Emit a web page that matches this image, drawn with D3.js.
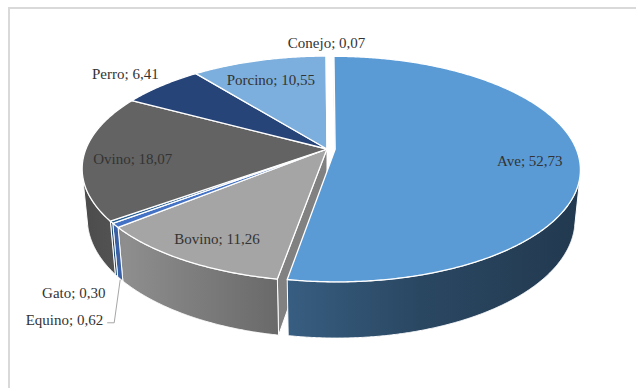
<!DOCTYPE html>
<html>
<head>
<meta charset="utf-8">
<script src="https://cdn.jsdelivr.net/npm/d3@7"></script>
<style>
  html, body { margin: 0; padding: 0; background: #ffffff; }
  svg { display: block; }
</style>
</head>
<body>
<script>
// Distribución de casos por especie (%)
const categories = ["Ave", "Bovino", "Equino", "Gato", "Ovino", "Perro", "Porcino", "Conejo"];
const shares = [52.73, 11.26, 0.62, 0.30, 18.07, 6.41, 10.55, 0.07];
const sliceColors = ["#5B9BD5", "#A5A5A5", "#4472C4", "#255E91", "#636363", "#264478", "#7CAFDD", "#B7B7B7"];
const explodedCategory = "Ave";

const W = 636, H = 388;
const svg = d3.select("body").append("svg").attr("width", W).attr("height", H);

// chart frame
svg.append("rect")
  .attr("x", 9).attr("y", 8).attr("width", W + 10).attr("height", H + 10)
  .attr("fill", "#ffffff").attr("stroke", "#d9d9d9").attr("stroke-width", 2);

// --- 3D projection of the pie disc ---
const cx = 327, cy = 149;          // screen position of the pie centre (top face)
const F = 1227, D = 5.09;          // focal length, camera distance (disc radius = 1)
const sinP = 0.453, cosP = Math.sqrt(1 - sinP * sinP); // camera elevation
const thick = 0.234;               // disc thickness
const explodeDist = 0.034;
const camera = [0, -D * cosP, D * sinP];

function proj(x, y, z) {
  const depth = D + y * cosP - z * sinP;
  return [cx + F * x / depth, cy - F * (y * sinP + z * cosP) / depth];
}

const fmt = d3.formatLocale({ decimal: ",", thousands: ".", grouping: [3], currency: ["", ""] }).format(".2f");
const color = d3.scaleOrdinal().domain(categories).range(sliceColors);

const data = categories.map((c, i) => ({ cat: c, v: shares[i] }));
const arcs = d3.pie().sort(null).value(d => d.v)(data);

arcs.forEach(a => {
  a.mid = (a.startAngle + a.endAngle) / 2;
  const e = a.data.cat === explodedCategory ? explodeDist : 0;
  a.ox = e * Math.sin(a.mid);
  a.oy = e * Math.cos(a.mid);
});

function rim(a, th, z, r = 1) {
  return proj(a.ox + r * Math.sin(th), a.oy + r * Math.cos(th), z);
}

// wall shading along the screen x direction
const defs = svg.append("defs");
const shadeStops = [[80, 0.76], [125, 0.86], [275, 0.64], [290, 0.6], [420, 0.46], [585, 0.37]];
function shade(col, k) {
  const c = d3.rgb(col);
  return d3.rgb(c.r * k, c.g * k, c.b * k).formatHex();
}
arcs.forEach((a, i) => {
  const g = defs.append("linearGradient")
    .attr("id", "wall" + i).attr("gradientUnits", "userSpaceOnUse")
    .attr("x1", 80).attr("y1", 0).attr("x2", 585).attr("y2", 0);
  shadeStops.forEach(([x, k]) => {
    g.append("stop").attr("offset", (x - 80) / 505).attr("stop-color", shade(color(a.data.cat), k));
  });
});

const poly = d3.line().curve(d3.curveLinearClosed);

// radial (cut) faces
const radial = [];
arcs.forEach((a, i) => {
  [[a.startAngle, [-Math.cos(a.startAngle), Math.sin(a.startAngle)]],
   [a.endAngle, [Math.cos(a.endAngle), -Math.sin(a.endAngle)]]].forEach(([th, n]) => {
    const vis = n[0] * (camera[0] - a.ox) + n[1] * (camera[1] - a.oy);
    if (vis <= 0) return;
    const pts = [proj(a.ox, a.oy, 0), rim(a, th, 0), rim(a, th, -thick), proj(a.ox, a.oy, -thick)];
    const depth = a.oy + 0.5 * Math.cos(th);
    radial.push({ pts, fill: shade(color(a.data.cat), 0.78), depth });
  });
});
radial.sort((p, q) => q.depth - p.depth);
svg.append("g").selectAll("path").data(radial).join("path")
  .attr("d", d => poly(d.pts))
  .attr("fill", d => d.fill)
  .attr("stroke", "#ffffff").attr("stroke-width", 1).attr("stroke-linejoin", "round");

// outer walls: only the part facing the camera
const walls = [];
arcs.forEach((a, i) => {
  const n = Math.max(2, Math.ceil((a.endAngle - a.startAngle) / (Math.PI / 720)) + 1);
  const angles = d3.range(n).map(k => a.startAngle + (a.endAngle - a.startAngle) * k / (n - 1));
  let run = [];
  const flush = () => {
    if (run.length >= 2) {
      const top = run.map(th => rim(a, th, 0));
      const bot = run.map(th => rim(a, th, -thick)).reverse();
      walls.push({ pts: top.concat(bot), i });
    }
    run = [];
  };
  angles.forEach(th => {
    const facing = -a.ox * Math.sin(th) - (a.oy + D * cosP) * Math.cos(th) - 1 > 0;
    if (facing) run.push(th); else flush();
  });
  flush();
});
svg.append("g").selectAll("path").data(walls).join("path")
  .attr("d", d => poly(d.pts))
  .attr("fill", d => `url(#wall${d.i})`)
  .attr("stroke", "#ffffff").attr("stroke-width", 1).attr("stroke-linejoin", "round");

// top faces
svg.append("g").selectAll("path").data(arcs).join("path")
  .attr("d", a => {
    const n = Math.max(2, Math.ceil((a.endAngle - a.startAngle) / (Math.PI / 360)) + 1);
    const pts = [proj(a.ox, a.oy, 0)];
    d3.range(n).forEach(k => pts.push(rim(a, a.startAngle + (a.endAngle - a.startAngle) * k / (n - 1), 0)));
    return poly(pts);
  })
  .attr("fill", a => color(a.data.cat))
  .attr("stroke", "#ffffff").attr("stroke-width", 1.3).attr("stroke-linejoin", "round");

// --- data labels ---
const labelText = a => `${a.data.cat}; ${fmt(a.data.v)}`;
const labels = svg.append("g")
  .attr("font-family", "Liberation Serif")
  .attr("font-size", 15)
  .attr("fill", "#333333");
const inside = ["Ave", "Bovino", "Ovino", "Porcino"];
const byCat = {};
arcs.forEach(a => byCat[a.data.cat] = a);

inside.forEach(c => {
  const a = byCat[c];
  const [x, y] = rim(a, a.mid, 0, 0.8);
  labels.append("text").attr("x", x).attr("y", y + 4).attr("dy", "0.35em")
    .attr("text-anchor", "middle").text(labelText(a));
});

// Perro and Conejo sit just outside the rim
{
  const a = byCat["Perro"];
  const [x, y] = rim(a, a.mid, 0, 1);
  labels.append("text").attr("x", x - 3).attr("y", y - 12).attr("dy", "0.35em")
    .attr("text-anchor", "end").text(labelText(a));
}
{
  const a = byCat["Conejo"];
  const [x, y] = rim(a, a.mid, 0, 1);
  labels.append("text").attr("x", x).attr("y", y - 13).attr("dy", "0.35em")
    .attr("text-anchor", "middle").text(labelText(a));
}
// Gato and Equino below the front-left rim, Equino with a leader line
{
  const a = byCat["Gato"];
  const [x, y] = rim(a, a.mid, -thick, 1);
  labels.append("text").attr("x", x - 11).attr("y", y + 17).attr("dy", "0.35em")
    .attr("text-anchor", "end").text(labelText(a));
}
{
  const a = byCat["Equino"];
  const [x, y] = rim(a, a.mid, -thick, 1);
  const p1 = [x - 6, y + 44], p2 = [x - 13, y + 44];
  svg.append("path").attr("d", d3.line()([[x, y + 1], p1, p2]))
    .attr("fill", "none").attr("stroke", "#a6a6a6").attr("stroke-width", 1);
  labels.append("text").attr("x", p2[0] - 4).attr("y", p2[1] - 3).attr("dy", "0.35em")
    .attr("text-anchor", "end").text(labelText(a));
}
</script>
</body>
</html>
